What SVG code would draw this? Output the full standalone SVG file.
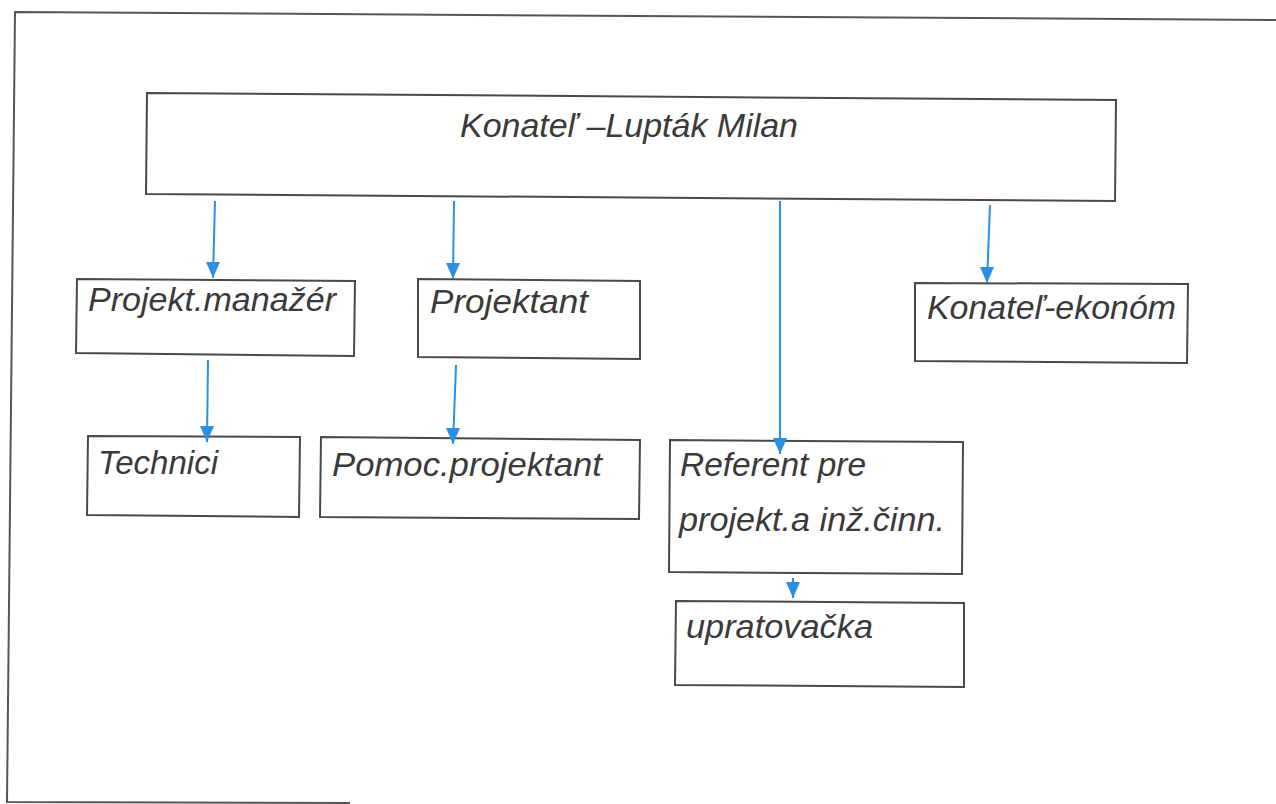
<svg xmlns="http://www.w3.org/2000/svg" width="1276" height="804" viewBox="0 0 1276 804">
<style>
.frame{fill:none;stroke:#555;stroke-width:2}
.box{fill:#fff;stroke:#4a4a4a;stroke-width:2}
.t{font-family:"Liberation Sans",Arial,sans-serif;font-style:italic;font-size:33px;fill:#3a3a3a}
.c{stroke:#2b8fe3;stroke-width:2;fill:none}
</style>
<defs>
<marker id="ad" viewBox="0 0 14 16" refX="7" refY="16" markerWidth="14" markerHeight="16" markerUnits="userSpaceOnUse" orient="0">
<path d="M0,0 L14,0 L7,16 Z" fill="#2b8fe3"/>
</marker>
</defs>
<rect width="1276" height="804" fill="#fff"/>
<path class="frame" d="M1276,20 L15,12 L7,802 L350,803"/>
<g id="konatel">
<polygon class="box" points="147,93 1116,100 1115,201 146,194"/>
<text class="t" x="460" y="137" textLength="338" lengthAdjust="spacingAndGlyphs" font-size="35">Konateľ –Lupták Milan</text>
</g>
<g id="manazer">
<polygon class="box" points="77,279 355,281 354,356 76,353"/>
<text class="t" x="88" y="311" textLength="248" lengthAdjust="spacingAndGlyphs">Projekt.manažér</text>
</g>
<g id="projektant">
<polygon class="box" points="418,279 640,281 640,359 418,357"/>
<text class="t" x="430" y="313" textLength="158" lengthAdjust="spacingAndGlyphs">Projektant</text>
</g>
<g id="ekonom">
<polygon class="box" points="915,283 1188,284 1187,363 915,361"/>
<text class="t" x="927" y="319" textLength="249" lengthAdjust="spacingAndGlyphs">Konateľ-ekonóm</text>
</g>
<g id="technici">
<polygon class="box" points="88,436 300,437 299,517 87,515"/>
<text class="t" x="98" y="474" textLength="120" lengthAdjust="spacingAndGlyphs">Technici</text>
</g>
<g id="pomoc">
<polygon class="box" points="321,437 640,440 639,519 320,517"/>
<text class="t" x="332" y="476" textLength="270" lengthAdjust="spacingAndGlyphs">Pomoc.projektant</text>
</g>
<g id="referent">
<polygon class="box" points="670,440 963,442 962,574 669,572"/>
<text class="t" x="680" y="476" textLength="186" lengthAdjust="spacingAndGlyphs">Referent pre</text>
<text class="t" x="679" y="531" textLength="266" lengthAdjust="spacingAndGlyphs">projekt.a inž.činn.</text>
</g>
<g id="upratovacka">
<polygon class="box" points="676,601 964,603 964,687 675,685"/>
<text class="t" x="686" y="638" textLength="187" lengthAdjust="spacingAndGlyphs">upratovačka</text>
</g>
<g id="connectors">
<line class="c" x1="215" y1="201" x2="213" y2="278" marker-end="url(#ad)"/>
<line class="c" x1="454" y1="201" x2="453" y2="279" marker-end="url(#ad)"/>
<line class="c" x1="780" y1="201" x2="780" y2="454" marker-end="url(#ad)"/>
<line class="c" x1="990" y1="205" x2="987" y2="283" marker-end="url(#ad)"/>
<line class="c" x1="208" y1="360" x2="207" y2="442" marker-end="url(#ad)"/>
<line class="c" x1="456" y1="365" x2="453" y2="444" marker-end="url(#ad)"/>
<line class="c" x1="793" y1="578" x2="793" y2="598" marker-end="url(#ad)"/>
</g>
</svg>
